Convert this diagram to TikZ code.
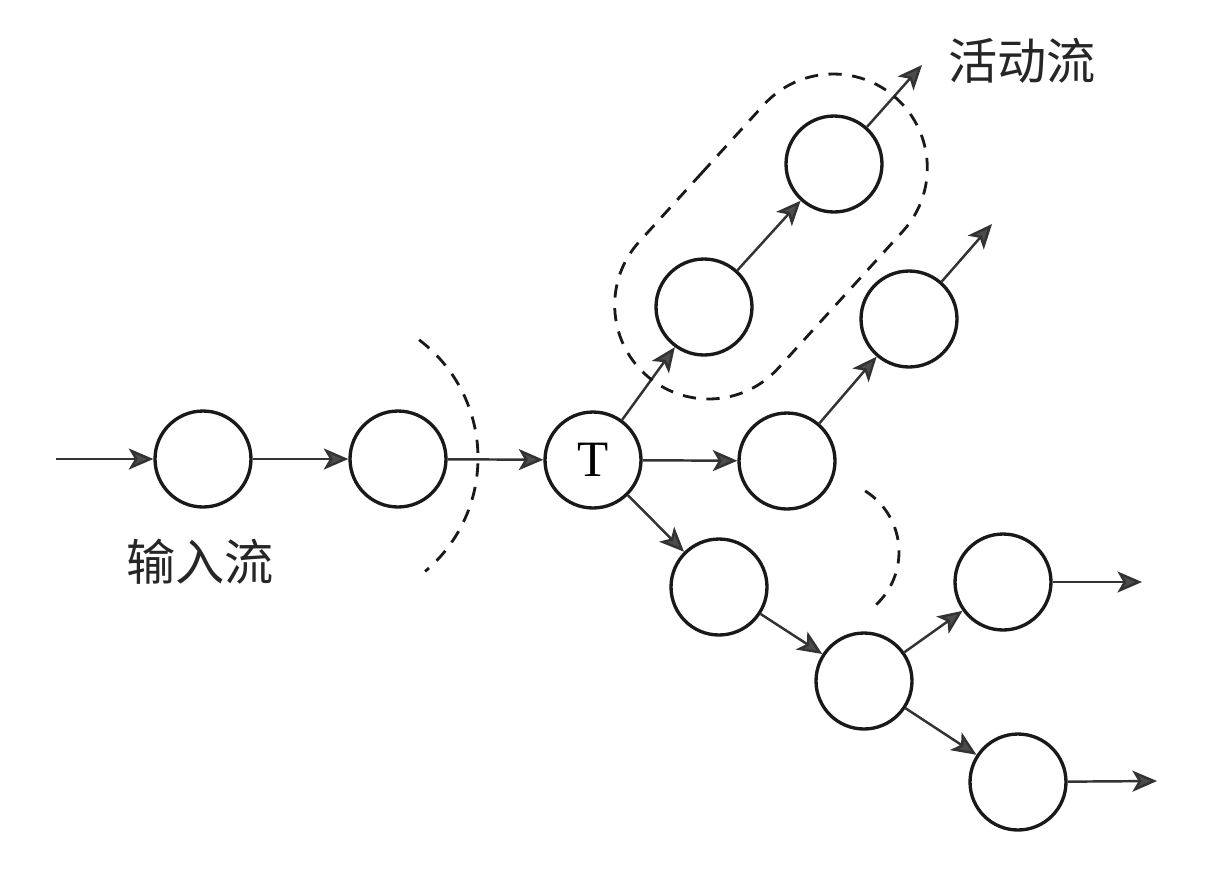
\documentclass[tikz,border=0pt]{standalone}
\usepackage{fontspec}
\setmainfont{Liberation Serif}
\newfontfamily\cjk{Noto Sans CJK SC}
\usetikzlibrary{arrows.meta,shapes.misc,calc}

\begin{document}
\begin{tikzpicture}[x=0.02cm,y=0.02cm,
    nodo/.style={circle,draw=black!90,line width=1.9pt,minimum size=1.92cm,inner sep=0pt},
    flecha/.style={line width=1.4pt,draw=black!80,-{Stealth[length=14pt,width=12pt,inset=3.5pt,fill=black!70]}},
    corte/.style={line width=1.6pt,draw=black!90,dash pattern=on 7.5pt off 6pt},
    etiqueta/.style={font=\cjk\fontsize{28}{30}\selectfont,text=black!85}]
  \useasboundingbox (0,0) rectangle (1210,-870);
  % flujo de entrada
  \coordinate (in) at (56,-459);
  \node[nodo] (a) at (203,-459) {};
  \node[nodo] (b) at (398,-459) {};
  \node[nodo,font=\fontsize{29}{30}\selectfont] (t) at (593,-460) {T};
  % rama superior
  \node[nodo] (u1) at (704,-307) {};
  \node[nodo] (u2) at (834,-164) {};
  \coordinate (u3) at (922,-65);
  % rama media
  \node[nodo] (m1) at (787,-461) {};
  \node[nodo] (m2) at (909,-319) {};
  \coordinate (m3) at (992,-224);
  % rama inferior
  \node[nodo] (l1) at (719,-587) {};
  \node[nodo] (l2) at (864,-681) {};
  \node[nodo] (l3) at (1003,-582) {};
  \node[nodo] (l4) at (1018,-782) {};
  \coordinate (l5) at (1142,-582);
  \coordinate (l6) at (1157,-781);
  % flechas
  \draw[flecha] (in) -- (a);
  \draw[flecha] (a) -- (b);
  \draw[flecha] (b) -- (t);
  \draw[flecha] (t) -- (u1);
  \draw[flecha] (u1) -- (u2);
  \draw[flecha] (u2) -- (u3);
  \draw[flecha] (t) -- (m1);
  \draw[flecha] (m1) -- (m2);
  \draw[flecha] (m2) -- (m3);
  \draw[flecha] (t) -- (l1);
  \draw[flecha] (l1) -- (l2);
  \draw[flecha] (l2) -- (l3);
  \draw[flecha] (l2) -- (l4);
  \draw[flecha] (l3) -- (l5);
  \draw[flecha] (l4) -- (l6);
  % cortes
  \draw[corte] (330,-458) ++(53:148) arc[start angle=53,end angle=-50,radius=148];
  \draw[corte] (827,-552) ++(58:72) arc[start angle=58,end angle=-53,radius=72];
  \node[corte,draw,rounded rectangle,minimum width=7.7cm,minimum height=3.76cm,rotate=47.7]
    (act) at ($(u1)!0.5!(u2)+(2,-1)$) {};
  % etiquetas
  \node[etiqueta] (lin) at (200,-562) {输入流};
  \node[etiqueta] (lact) at (1022,-61) {活动流};
\end{tikzpicture}
\end{document}
